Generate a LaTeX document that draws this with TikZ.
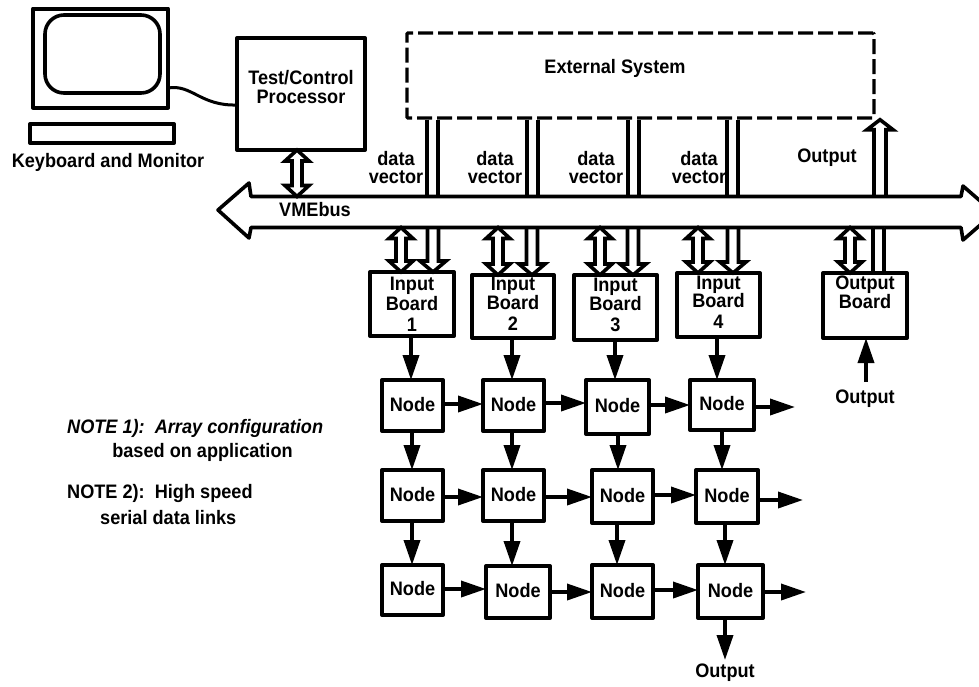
\documentclass[tikz,border=0pt]{standalone}
\usepackage{fontspec}
\usetikzlibrary{arrows.meta,calc}
\newfontfamily\lab[UprightFont=* Bold,FakeStretch=0.93]{Liberation Sans}
\newfontfamily\labit[UprightFont=* Bold Italic,FakeStretch=0.93]{Liberation Sans}
\tikzset{
  txt/.style={font=\lab\fontsize{19.5}{19.5}\selectfont,inner sep=0pt,align=center},
  boxn/.style={draw=black,line width=4pt,fill=white,inner sep=0pt,outer sep=0pt,align=center,font=\lab\fontsize{19.5}{20}\selectfont,line join=round},
  wire/.style={line width=3.6pt,draw=black,line join=round},
  arr/.style={wire,-{Triangle[length=25pt,width=16pt]}},
  hollow/.style={line width=3.6pt,draw=black,fill=white,line join=miter},
}
\newcommand\bx[6]{\node[boxn,minimum width={(#4-#2)*1pt},minimum height={(#5-#3)*1pt}] (#1) at ({(#2+#4)/2},{(#3+#5)/2}) {#6};}
\newcommand\nd[5]{\bx{#1}{#2}{#3}{#4}{#5}{\raisebox{3pt}{Node}}}
% hollow two-headed arrow
\newcommand\bid[2]{\coordinate (p) at (#1);\coordinate (q) at (#2);
  \draw[hollow] (p) -- ($(p)+(-12,11)$) -- ($(p)+(-5,11)$) -- ($(q)+(-5,-11)$) -- ($(q)+(-12,-11)$) -- (q) -- ($(q)+(12,-11)$) -- ($(q)+(5,-11)$) -- ($(p)+(5,11)$) -- ($(p)+(12,11)$) -- cycle;}
% hollow arrow, head at the second point
\newcommand\dwn[2]{\coordinate (p) at (#1);\coordinate (q) at (#2);
  \draw[hollow,fill=none] (p) ++(-5.5,0) -- ($(q)+(-5.5,-11)$) -- ($(q)+(-13,-11)$) -- (q) -- ($(q)+(13,-11)$) -- ($(q)+(5.5,-11)$) -- ($(p)+(5.5,0)$);}
\newcommand\upw[2]{\coordinate (p) at (#1);\coordinate (q) at (#2);
  \draw[hollow,fill=none] (q) ++(-6,0) -- ($(p)+(-6,10)$) -- ($(p)+(-13,10)$) -- (p) -- ($(p)+(13,10)$) -- ($(p)+(6,10)$) -- ($(q)+(6,0)$);}
\newcommand\bars[4]{\draw[hollow] (#1,0 |- #3) -- (#1,0 |- #4); \draw[hollow] (#2,0 |- #3) -- (#2,0 |- #4);}
\begin{document}
\begin{tikzpicture}[x=1pt,y=-1pt]
\useasboundingbox (0,0) rectangle (979,686);
\clip (0,0) rectangle (979,686);
% monitor and keyboard
\node[boxn,minimum width=135pt,minimum height=99pt] (mon) at (100.5,58) {};
\node[draw=black,line width=3.6pt,rounded corners=19pt,minimum width=115pt,minimum height=78pt,inner sep=0pt] (scr) at (102.5,54) {};
\node[boxn,minimum width=144pt,minimum height=19pt] (kbd) at (102,133.5) {};
\node[txt] (kl) at (108,162) {Keyboard and Monitor};
% processor
\bx{tcp}{237}{38}{365}{150}{\raisebox{22pt}{\begin{tabular}{@{}c@{}}Test/Control\\[-1pt]Processor\end{tabular}}}
\draw[wire,line width=3pt] (mon.east |- 0,88) .. controls (192,84) and (200,106) .. (tcp.west |- 0,105);
% external system
\node[draw=black,line width=3.4pt,dash pattern=on 15pt off 5pt,minimum width=467pt,minimum height=85pt,inner sep=0pt,rounded corners=1pt] (ext) at (640.5,75.5) {};
\node[txt] (extl) at (615,68) {External System};
% bus
\coordinate (bt) at (605,196.5);
\coordinate (bb) at (605,227.5);
\draw[hollow,line join=round] (218,210) -- (249,183) -- (251,196.5) -- (bt) -- (961,196.5) -- (963,186) -- (994,213) -- (963,240) -- (961,227.5) -- (bb) -- (251,227.5) -- (249,238) -- cycle;
\node[txt] (vme) at (315,210) {VMEbus};
% boards
\bx{b1}{370}{272}{454}{336}{Input\\Board\\[1pt]1}
\bx{b2}{472}{275}{554}{338}{\raisebox{3pt}{\begin{tabular}{@{}c@{}}Input\\[-2pt]Board\\[1pt]2\end{tabular}}}
\bx{b3}{574}{275}{657}{340}{\raisebox{4pt}{\begin{tabular}{@{}c@{}}Input\\[-2pt]Board\\[1pt]3\end{tabular}}}
\bx{b4}{677}{273}{760}{337}{\raisebox{2pt}{\begin{tabular}{@{}c@{}}Input\\[-2pt]Board\\[1pt]4\end{tabular}}}
\bx{ob}{823}{273}{907}{338}{\raisebox{3pt}{\begin{tabular}{@{}c@{}}Output\\[-2pt]Board\\[1pt]\phantom{1}\end{tabular}}}
% nodes
\nd{n11}{382}{380}{443}{431}
\nd{n12}{483}{380}{544}{431}
\nd{n13}{586}{380}{649}{434}
\nd{n14}{690}{380}{754}{430}
\nd{n21}{382}{470}{443}{521}
\nd{n22}{483}{470}{544}{521}
\nd{n23}{592}{470}{653}{523}
\nd{n24}{696}{470}{758}{523}
\nd{n31}{382}{565}{443}{615}
\nd{n32}{486}{566}{550}{618}
\nd{n33}{592}{565}{653}{618}
\nd{n34}{698}{565}{763}{618}
% bus links
\bid{297,0 |- tcp.south}{297,0 |- bt}
\bars{427}{438}{ext.south}{bt}
\bars{527}{538}{ext.south}{bt}
\bars{628}{639}{ext.south}{bt}
\bars{727}{738}{ext.south}{bt}
\upw{880,0 |- ext.south}{880,0 |- bt}
\bid{401,0 |- bb}{401,0 |- b1.north}
\dwn{433,0 |- bb}{433,0 |- b1.north}
\bid{498,0 |- bb}{498,0 |- b2.north}
\dwn{532,0 |- bb}{532,0 |- b2.north}
\bid{600,0 |- bb}{600,0 |- b3.north}
\dwn{633,0 |- bb}{633,0 |- b3.north}
\bid{698,0 |- bb}{698,0 |- b4.north}
\dwn{733,0 |- bb}{733,0 |- b4.north}
\bid{850,0 |- bb}{850,0 |- ob.north}
\bars{873}{884}{bb}{ob.north}
% labels
\node[txt] (d1) at (396,168) {data\\[-1.5pt]vector};
\node[txt] (d2) at (495,168) {data\\[-1.5pt]vector};
\node[txt] (d3) at (596,168) {data\\[-1.5pt]vector};
\node[txt] (d4) at (699,168) {data\\[-1.5pt]vector};
\node[txt] (o1) at (827,158) {Output};
\node[txt] (o2) at (865,399) {Output};
\node[txt] (o3) at (725,673) {Output};
\coordinate (oin) at (866,382);
\draw[arr] (oin) -- (866,0 |- ob.south);
% board to node
\draw[arr] (411,0 |- b1.south) -- (411,0 |- n11.north);
\draw[arr] (512,0 |- b2.south) -- (512,0 |- n12.north);
\draw[arr] (615,0 |- b3.south) -- (615,0 |- n13.north);
\draw[arr] (717,0 |- b4.south) -- (717,0 |- n14.north);
% vertical
\draw[arr] (412,0 |- n11.south) -- (412,0 |- n21.north);
\draw[arr] (412,0 |- n21.south) -- (412,0 |- n31.north);
\draw[arr] (512,0 |- n12.south) -- (512,0 |- n22.north);
\draw[arr] (512,0 |- n22.south) -- (512,0 |- n32.north);
\draw[arr] (618,0 |- n13.south) -- (618,0 |- n23.north);
\draw[arr] (617,0 |- n23.south) -- (617,0 |- n33.north);
\draw[arr] (722,0 |- n14.south) -- (722,0 |- n24.north);
\draw[arr] (725,0 |- n24.south) -- (725,0 |- n34.north);
\coordinate (bo) at (725,660);
\draw[arr] (725,0 |- n34.south) -- (bo);
% horizontal
\draw[arr] (n11.east |- 0,404) -- (n12.west |- 0,404);
\draw[arr] (n12.east |- 0,403) -- (n13.west |- 0,403);
\draw[arr] (n13.east |- 0,405) -- (n14.west |- 0,405);
\coordinate (e1) at (795,407);
\draw[arr] (n14.east |- e1) -- (e1);
\draw[arr] (n21.east |- 0,497) -- (n22.west |- 0,497);
\draw[arr] (n22.east |- 0,497) -- (n23.west |- 0,497);
\draw[arr] (n23.east |- 0,495) -- (n24.west |- 0,495);
\coordinate (e2) at (803,500);
\draw[arr] (n24.east |- e2) -- (e2);
\draw[arr] (n31.east |- 0,589) -- (n32.west |- 0,589);
\draw[arr] (n32.east |- 0,592) -- (n33.west |- 0,592);
\draw[arr] (n33.east |- 0,590) -- (n34.west |- 0,590);
\coordinate (e3) at (806,592);
\draw[arr] (n34.east |- e3) -- (e3);
% notes
\node[txt,anchor=west] (t1) at (67,428) {\labit NOTE 1):\ \ Array configuration};
\node[txt] (t2) at (202.5,452) {based on application};
\node[txt,anchor=west] (t3) at (67,493) {NOTE 2):\ \ High speed};
\node[txt,anchor=west] (t4) at (100,518) {serial data links};
\end{tikzpicture}
\end{document}
